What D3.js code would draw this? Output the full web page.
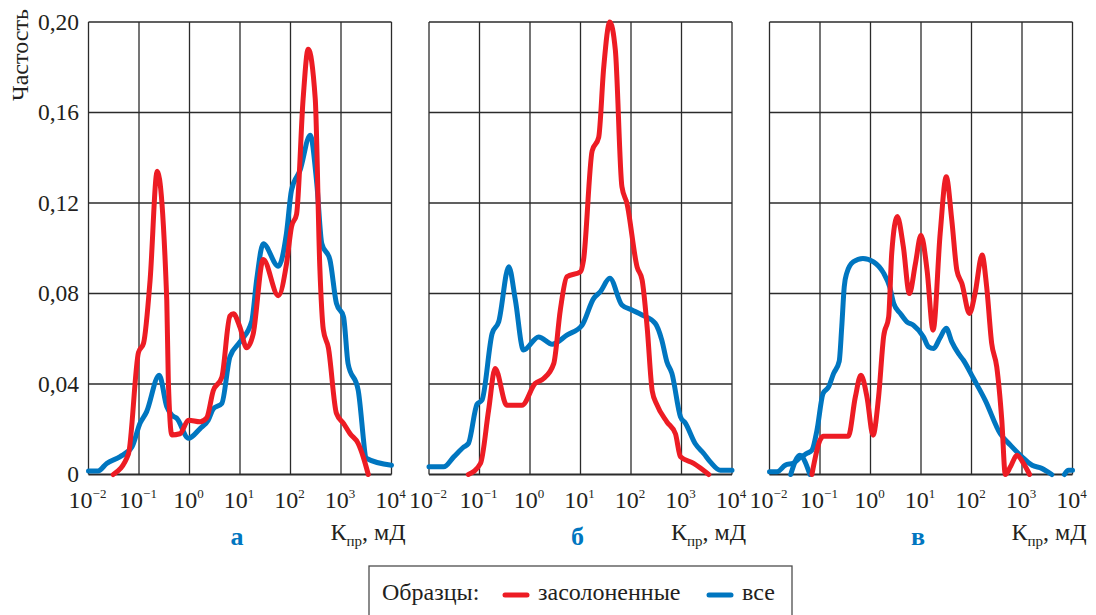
<!DOCTYPE html>
<html>
<head>
<meta charset="utf-8">
<script src="https://cdn.jsdelivr.net/npm/d3@7"></script>
<style>
  body { margin: 0; background: #fff; }
  svg text { font-family: "Liberation Serif", "Times New Roman", Tinos, "DejaVu Serif", serif; }
</style>
</head>
<body>
<svg id="chart" width="1096" height="615"></svg>
<script>
// Exponent of K (log10 mD) and frequency for each curve
var saltA = [[-1.51,0],[-1.21,0.009],[-1.01,0.054],[-0.91,0.058],[-0.78,0.086],[-0.64,0.134],[-0.45,0.077],
  [-0.42,0.042],[-0.35,0.0175],[-0.19,0.018],[-0.02,0.024],[0.21,0.0233],[0.34,0.025],[0.47,0.037],[0.64,0.043],
  [0.80,0.070],[0.87,0.071],[1.0,0.065],[1.13,0.056],[1.26,0.062],[1.46,0.095],[1.76,0.079],[1.92,0.093],
  [2.02,0.1095],[2.12,0.115],[2.25,0.166],[2.35,0.188],[2.49,0.166],[2.58,0.092],[2.65,0.064],[2.75,0.056],
  [2.91,0.027],[3.05,0.0226],[3.18,0.018],[3.34,0.0137],[3.44,0.0078],[3.54,0]];
var allA = [[-2.0,0.0016],[-1.81,0.0016],[-1.64,0.0049],[-1.38,0.0078],[-1.14,0.0122],[-0.98,0.0226],[-0.85,0.0277],
  [-0.60,0.0439],[-0.45,0.030],[-0.35,0.0262],[-0.25,0.0248],[-0.02,0.016],[0.21,0.0203],[0.37,0.024],[0.47,0.029],
  [0.64,0.0314],[0.80,0.052],[1.0,0.0586],[1.23,0.0675],[1.33,0.086],[1.46,0.102],[1.76,0.092],[1.92,0.1066],
  [2.02,0.1257],[2.19,0.1345],[2.39,0.150],[2.52,0.1287],[2.62,0.102],[2.78,0.095],[2.91,0.0756],[3.05,0.0697],
  [3.14,0.049],[3.34,0.0373],[3.51,0.0071],[4.0,0.0041]];
var saltB = [[-1.22,0],[-0.98,0.0049],[-0.82,0.0284],[-0.69,0.0469],[-0.46,0.0306],[-0.16,0.0306],[0.10,0.0402],
  [0.27,0.0424],[0.47,0.049],[0.60,0.0727],[0.73,0.0874],[1.0,0.0896],[1.06,0.0948],[1.23,0.143],[1.36,0.149],
  [1.46,0.180],[1.58,0.200],[1.69,0.1876],[1.82,0.1272],[1.92,0.1198],[2.12,0.0918],[2.22,0.086],[2.32,0.065],
  [2.42,0.037],[2.51,0.031],[2.71,0.0233],[2.88,0.018],[2.98,0.0078],[3.24,0.0049],[3.54,0]];
var allB = [[-2.0,0.0034],[-1.71,0.0034],[-1.51,0.0078],[-1.31,0.0122],[-1.22,0.0137],[-1.05,0.031],[-0.95,0.0329],
  [-0.75,0.0623],[-0.62,0.0675],[-0.42,0.0918],[-0.29,0.0771],[-0.13,0.055],[0.17,0.0608],[0.44,0.0576],
  [0.73,0.0616],[1.03,0.066],[1.26,0.0778],[1.39,0.0807],[1.58,0.0867],[1.82,0.0749],[2.02,0.0727],[2.22,0.0705],
  [2.48,0.0668],[2.61,0.0594],[2.71,0.0498],[2.81,0.0447],[2.98,0.0255],[3.08,0.0226],[3.27,0.0137],
  [3.44,0.0093],[3.57,0.0056],[3.77,0.0019],[4.0,0.0019]];
var saltC = [[-1.16,0],[-1.0,0.0152],[-0.93,0.0169],[-0.44,0.0169],[-0.30,0.0343],[-0.19,0.0439],[-0.07,0.0343],
  [0.05,0.0174],[0.16,0.0343],[0.26,0.061],[0.36,0.0697],[0.42,0.0977],[0.53,0.114],[0.65,0.1007],[0.77,0.080],
  [0.89,0.0933],[1.0,0.1058],[1.12,0.0903],[1.24,0.0638],[1.38,0.1066],[1.50,0.1316],[1.61,0.1124],[1.71,0.0903],
  [1.81,0.0844],[1.96,0.0712],[2.07,0.080],[2.21,0.097],[2.30,0.083],[2.40,0.0579],[2.50,0.0476],[2.60,0.024],
  [2.67,0],[2.77,0.0034],[2.90,0.0085],[3.03,0.0049],[3.15,0]];
var allC = [[-2.0,0.0012],[-1.85,0.0012],[-1.69,0.0041],[-1.52,0.0051],[-1.39,0.0075],[-1.26,0.0093],[-1.16,0.0107],
  [-1.06,0.0196],[-0.94,0.0358],[-0.83,0.0387],[-0.73,0.0447],[-0.62,0.050],[-0.57,0.065],[-0.52,0.083],
  [-0.47,0.089],[-0.34,0.094],[-0.15,0.0955],[0.06,0.094],[0.26,0.089],[0.38,0.083],[0.46,0.0756],[0.59,0.0712],
  [0.72,0.0675],[0.85,0.066],[1.05,0.0608],[1.15,0.0564],[1.25,0.0557],[1.37,0.0601],[1.50,0.0646],[1.61,0.0586],
  [1.74,0.0535],[1.84,0.0505],[2.04,0.0424],[2.27,0.0329],[2.57,0.018],[2.77,0.013],[3.0,0.0078],[3.20,0.0041],
  [3.39,0.0027],[3.59,0]];
var allC2 = [[-1.58,0],[-1.40,0.0085],[-1.20,0]];
var allC3 = [[3.84,0],[3.92,0.0019],[4.0,0.0019]];

var yTicks = [0, 0.04, 0.08, 0.12, 0.16, 0.20];
var xTicks = [-2, -1, 0, 1, 2, 3, 4];
var panelLetters = ["а", "б", "в"];
var legendNames = ["засолоненные", "все"];

var red = "#ed1c24", blue = "#0076c0";

var panels = [
  { left: 88.5, letter: panelLetters[0], salt: [saltA], all: [allA] },
  { left: 429, letter: panelLetters[1], salt: [saltB], all: [allB] },
  { left: 769.5, letter: panelLetters[2], salt: [saltC], all: [allC, allC2, allC3] }
];

var svg = d3.select("#chart");
var plotTop = 22, plotBottom = 474.5, pw = 303;

var y = d3.scaleLinear().domain([0, 0.2]).range([plotBottom, plotTop]);

panels.forEach(function(p, i){
  var x = d3.scaleLog().domain([1e-2, 1e4]).range([p.left, p.left + pw]);
  var g = svg.append("g");

  // grid
  g.selectAll(".vg").data(xTicks).enter().append("line")
    .attr("x1", function(d){ return x(Math.pow(10, d)); })
    .attr("x2", function(d){ return x(Math.pow(10, d)); })
    .attr("y1", plotTop).attr("y2", plotBottom)
    .attr("stroke", "#2b2b2b").attr("stroke-width", 1.3);
  g.selectAll(".hg").data(yTicks).enter().append("line")
    .attr("x1", p.left).attr("x2", p.left + pw)
    .attr("y1", function(d){ return y(d); })
    .attr("y2", function(d){ return y(d); })
    .attr("stroke", "#2b2b2b").attr("stroke-width", function(d){ return d === 0 ? 1.8 : 1.3; });

  var line = d3.line()
    .x(function(d){ return x(Math.pow(10, d[0])); })
    .y(function(d){ return y(d[1]); })
    .curve(d3.curveMonotoneX);

  p.all.forEach(function(s){
    g.append("path").attr("d", line(s)).attr("fill", "none")
      .attr("stroke", blue).attr("stroke-width", 5).attr("stroke-linejoin", "round").attr("stroke-linecap", "round");
  });
  p.salt.forEach(function(s){
    g.append("path").attr("d", line(s)).attr("fill", "none")
      .attr("stroke", red).attr("stroke-width", 5).attr("stroke-linejoin", "round").attr("stroke-linecap", "round");
  });

  // x tick labels 10^n
  xTicks.forEach(function(d){
    var t = g.append("text")
      .attr("x", x(Math.pow(10, d)) - 1).attr("y", 508)
      .attr("text-anchor", "middle").attr("font-size", 24).attr("fill", "#231f20");
    t.append("tspan").text("10");
    t.append("tspan").attr("dy", -10).attr("font-size", 13)
      .text(d < 0 ? "\u2212" + (-d) : String(d));
  });

  // axis title
  var at = g.append("text").attr("x", p.left + pw + 14).attr("y", 540)
    .attr("text-anchor", "end").attr("font-size", 24).attr("fill", "#231f20");
  at.append("tspan").text("К");
  at.append("tspan").attr("dy", 6).attr("font-size", 15).text("пр");
  at.append("tspan").attr("dy", -6).text(", мД");

  // panel letter
  g.append("text").attr("x", p.left + pw / 2 - 3).attr("y", 545)
    .attr("text-anchor", "middle").attr("font-size", 26).attr("font-weight", "bold")
    .attr("fill", blue).text(p.letter);

  if (i === 0) {
    g.selectAll(".yl").data(yTicks).enter().append("text")
      .attr("x", 79).attr("y", function(d){ return y(d) + 7.5; })
      .attr("text-anchor", "end").attr("font-size", 23.5).attr("fill", "#231f20")
      .text(function(d){ return d === 0 ? "0" : d3.format(".2f")(d).replace(".", ","); });
    g.append("text").attr("transform", "translate(28,55) rotate(-90)")
      .attr("text-anchor", "middle").attr("font-size", 24).attr("fill", "#231f20")
      .text("Частость");
  }
});

// legend
var lg = svg.append("g");
lg.append("rect").attr("x", 369).attr("y", 566).attr("width", 423).attr("height", 70)
  .attr("fill", "none").attr("stroke", "#4d4d4d").attr("stroke-width", 1.3);
lg.append("text").attr("x", 382).attr("y", 600).attr("font-size", 24).attr("fill", "#231f20").text("Образцы:");
var items = [{ x: 503, color: red, name: legendNames[0] }, { x: 707, color: blue, name: legendNames[1] }];
items.forEach(function(it){
  lg.append("line").attr("x1", it.x + 2).attr("x2", it.x + 24).attr("y1", 595).attr("y2", 595)
    .attr("stroke", it.color).attr("stroke-width", 5).attr("stroke-linecap", "round");
  lg.append("text").attr("x", it.x + 35).attr("y", 600).attr("font-size", 24).attr("fill", "#231f20").text(it.name);
});
</script>
</body>
</html>
